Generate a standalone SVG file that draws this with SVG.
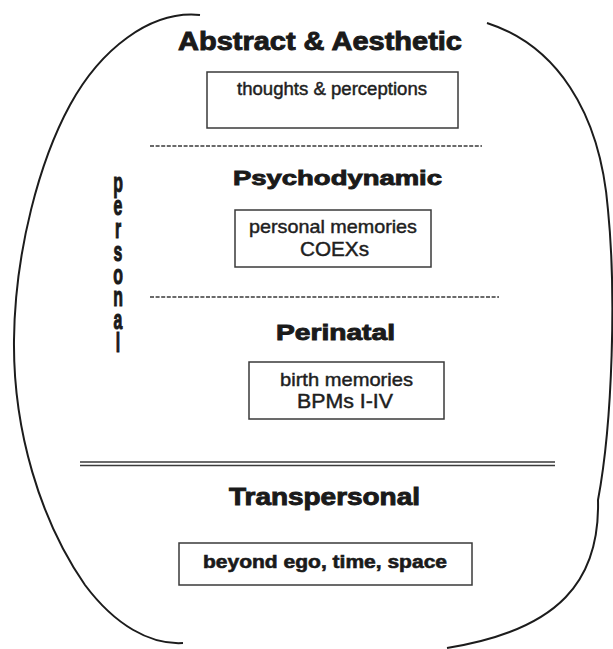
<svg xmlns="http://www.w3.org/2000/svg" width="613" height="649" viewBox="0 0 613 649">
<style>
.bg{fill:#ffffff}
.arc{fill:none;stroke:#1c1c1c;stroke-width:2}
.box{fill:#ffffff;stroke:#3a3a3a;stroke-width:1.5}
.dash{stroke:#3a3a3a;stroke-width:1.6;stroke-dasharray:4 1.6}
.dbl{stroke:#3a3a3a;stroke-width:1.3}
.head{font-family:"Liberation Sans",Arial,sans-serif;font-weight:bold;fill:#1a1a1a;stroke:#1a1a1a;stroke-width:0.9;text-anchor:middle}
.lbl{font-family:"Liberation Sans",Arial,sans-serif;fill:#1e1e1e;stroke:#1e1e1e;stroke-width:0.45;text-anchor:middle}
.lblb{font-family:"Liberation Sans",Arial,sans-serif;font-weight:bold;fill:#1a1a1a;stroke:#1a1a1a;stroke-width:0.6;text-anchor:middle}
.vert{font-family:"Liberation Sans",Arial,sans-serif;font-weight:bold;font-size:22px;fill:#1a1a1a;stroke:#1a1a1a;stroke-width:0.9;writing-mode:vertical-rl;text-orientation:upright;letter-spacing:-6.2px}
</style>
<rect class="bg" x="0" y="0" width="613" height="649"/>
<g id="connectors">
  <path class="arc" d="M200,15 C150,10 100,50 70,105 C40,160 15,250 14,340 C13,430 40,520 85,585 C115,625 150,645 183,643"/>
  <path class="arc" d="M487,23 C555,45 600,110 608,210 C616,290 613,420 598,500 C600,580 560,630 447,648"/>
  <line class="dash" x1="150" y1="146" x2="482" y2="146"/>
  <line class="dash" x1="150" y1="297" x2="499" y2="297"/>
  <line class="dbl" x1="80" y1="462" x2="555" y2="462"/>
  <line class="dbl" x1="80" y1="465.5" x2="555" y2="465.5"/>
</g>
<g id="abstract">
  <text class="head" x="320" y="50" font-size="25" textLength="284" lengthAdjust="spacingAndGlyphs">Abstract &amp; Aesthetic</text>
  <rect class="box" x="207" y="72" width="251" height="56"/>
  <text class="lbl" x="332" y="95" font-size="18" textLength="190" lengthAdjust="spacingAndGlyphs">thoughts &amp; perceptions</text>
</g>
<g id="psychodynamic">
  <text class="head" x="337.5" y="185" font-size="21" textLength="209" lengthAdjust="spacingAndGlyphs">Psychodynamic</text>
  <rect class="box" x="235" y="210" width="196" height="57"/>
  <text class="lbl" x="333" y="233" font-size="19" textLength="168" lengthAdjust="spacingAndGlyphs">personal memories</text>
  <text class="lbl" x="334.5" y="256" font-size="20" textLength="69" lengthAdjust="spacingAndGlyphs">COEXs</text>
</g>
<g id="perinatal">
  <text class="head" x="335.5" y="340" font-size="22" textLength="119" lengthAdjust="spacingAndGlyphs">Perinatal</text>
  <rect class="box" x="249" y="362" width="195" height="57"/>
  <text class="lbl" x="346.5" y="386" font-size="19" textLength="133" lengthAdjust="spacingAndGlyphs">birth memories</text>
  <text class="lbl" x="345" y="408" font-size="20" textLength="96" lengthAdjust="spacingAndGlyphs">BPMs I-IV</text>
</g>
<g id="transpersonal">
  <text class="head" x="324.5" y="505" font-size="23" textLength="191" lengthAdjust="spacingAndGlyphs">Transpersonal</text>
  <rect class="box" x="179" y="543" width="293" height="42"/>
  <text class="lblb" x="325" y="568" font-size="18" textLength="244" lengthAdjust="spacingAndGlyphs">beyond ego, time, space</text>
</g>
<g id="personal-label" transform="translate(118,0) scale(0.72,1.25)">
  <text class="vert" x="0" y="134">personal</text>
</g>
</svg>
